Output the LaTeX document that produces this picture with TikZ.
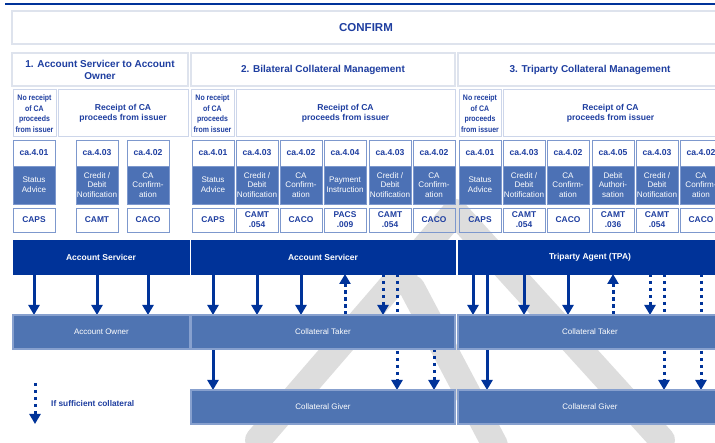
\documentclass[tikz,border=0pt]{standalone}
\usepackage{fontspec}
\setmainfont{Liberation Sans}
\usetikzlibrary{arrows.meta}
\pgfdeclarelayer{wm}
\pgfdeclarelayer{bg}
\pgfsetlayers{wm,bg,main}
\definecolor{dblue}{RGB}{0,51,153}
\definecolor{tblue}{RGB}{30,62,160}
\definecolor{mblue}{RGB}{76,113,181}
\definecolor{lbox}{RGB}{79,116,178}
\definecolor{lboxedge}{RGB}{135,160,206}
\definecolor{cborder}{RGB}{125,152,205}
\definecolor{hborder}{RGB}{205,214,234}
\definecolor{tborder}{RGB}{222,227,237}
\definecolor{wmgray}{RGB}{221,221,221}
\newcommand\bx[7]{\node[box,#6,minimum width={#4-#2},minimum height={#5-#3}] (#1) at (#2,#3) {#7};}
\newcommand\mcol[5]{%
  \bx{#1c}{#2}{140}{#2+42}{166}{codecell}{#3}
  \bx{#1m}{#2}{166}{#2+42}{204}{msgcell}{#4}
  \bx{#1b}{#2}{208}{#2+42}{232}{botcell}{#5}}
\begin{document}
\begin{tikzpicture}[x=1pt,y=-1pt,
  box/.style={rectangle,inner sep=0pt,outer sep=0pt,anchor=north west,align=center},
  conf/.style={draw=tborder,line width=1.5pt,text=tblue,font=\fontsize{11.5}{13}\selectfont\bfseries},
  sec/.style={draw=tborder,line width=1.5pt,text=tblue,font=\fontsize{10}{12}\selectfont\bfseries},
  subh/.style={draw=hborder,line width=1pt,text=tblue,font=\fontsize{8}{10.5}\selectfont\bfseries\addfontfeature{FakeStretch=0.87}},
  subr/.style={draw=hborder,line width=1pt,text=tblue,font=\fontsize{8.6}{10.5}\selectfont\bfseries},
  codecell/.style={draw=cborder,line width=0.8pt,text=tblue,font=\fontsize{8.6}{10}\selectfont\bfseries},
  msgcell/.style={draw=cborder,fill=mblue,line width=0.8pt,text=white,font=\fontsize{8.1}{9.6}\selectfont},
  botcell/.style={draw=cborder,line width=0.8pt,text=tblue,font=\fontsize{8.4}{10}\selectfont\bfseries},
  bar/.style={fill=dblue,draw=dblue,text=white,font=\fontsize{8.5}{10}\selectfont\bfseries},
  low/.style={fill=lbox,draw=lboxedge,line width=1.2pt,text=white,font=\fontsize{8}{10}\selectfont},
  legend/.style={text=tblue,font=\fontsize{8.3}{10}\selectfont\bfseries,inner sep=0pt,anchor=west},
  sol/.style={draw=dblue,line width=3pt,-{Triangle[length=10pt,width=11pt]}},
  dot/.style={sol,dash pattern=on 3.5pt off 3.5pt}]
\useasboundingbox (0,0) rectangle (715,443);
\clip (0,0) rectangle (715,443);
% background and watermark
\begin{pgfonlayer}{wm}
\fill[white] (0,0) rectangle (715,443);
\draw[wmgray,line width=26pt,line cap=round] (455,212) -- (662,440);
\draw[wmgray,line width=26pt,line cap=round] (455,212) -- (258,440);
\draw[wmgray,line width=26pt,line cap=round] (412,288) -- (495,445);
\end{pgfonlayer}
% top rule
\draw[dblue,line width=2pt] (5,4.5) -- (715,4.5);
% headers
\bx{cf}{12}{11}{720}{44}{conf}{CONFIRM}
\bx{s1}{12}{53}{188}{86}{sec}{1. Account Servicer to Account\\Owner}
\bx{s2}{191}{53}{455}{86}{sec}{2. Bilateral Collateral Management}
\bx{s3}{458}{53}{722}{86}{sec}{3. Triparty Collateral Management}
\bx{nr1}{13}{90}{56}{137}{subh}{No receipt\\of CA\\proceeds\\from issuer}
\bx{rc1}{58}{90}{188}{137}{subr}{Receipt of CA\\proceeds from issuer}
\bx{nr2}{191}{90}{234}{137}{subh}{No receipt\\of CA\\proceeds\\from issuer}
\bx{rc2}{236}{90}{455}{137}{subr}{Receipt of CA\\proceeds from issuer}
\bx{nr3}{459}{90}{501}{137}{subh}{No receipt\\of CA\\proceeds\\from issuer}
\bx{rc3}{503}{90}{718}{137}{subr}{Receipt of CA\\proceeds from issuer}
% message columns
\mcol{c11}{13}{ca.4.01}{Status\\Advice}{CAPS}
\mcol{c12}{76}{ca.4.03}{Credit /\\Debit\\Notification}{CAMT}
\mcol{c13}{127}{ca.4.02}{CA\\Confirm-\\ation}{CACO}
\mcol{c21}{192}{ca.4.01}{Status\\Advice}{CAPS}
\mcol{c22}{236}{ca.4.03}{Credit /\\Debit\\Notification}{CAMT\\.054}
\mcol{c23}{280}{ca.4.02}{CA\\Confirm-\\ation}{CACO}
\mcol{c24}{324}{ca.4.04}{Payment\\Instruction}{PACS\\.009}
\mcol{c25}{369}{ca.4.03}{Credit /\\Debit\\Notification}{CAMT\\.054}
\mcol{c26}{413}{ca.4.02}{CA\\Confirm-\\ation}{CACO}
\mcol{c31}{459}{ca.4.01}{Status\\Advice}{CAPS}
\mcol{c32}{503}{ca.4.03}{Credit /\\Debit\\Notification}{CAMT\\.054}
\mcol{c33}{547}{ca.4.02}{CA\\Confirm-\\ation}{CACO}
\mcol{c34}{592}{ca.4.05}{Debit\\Authori-\\sation}{CAMT\\.036}
\mcol{c35}{636}{ca.4.03}{Credit /\\Debit\\Notification}{CAMT\\.054}
\mcol{c36}{680}{ca.4.02}{CA\\Confirm-\\ation}{CACO}
% parties
\bx{as1}{13}{240}{189}{274}{bar}{Account Servicer}
\bx{as2}{191}{240}{455}{274}{bar}{Account Servicer}
\bx{tpa}{458}{240}{722}{274}{bar}{Triparty Agent (TPA)}
\bx{ao}{13}{315}{190}{349}{low}{Account Owner}
\bx{ct2}{191}{315}{455}{349}{low}{Collateral Taker}
\bx{ct3}{458}{315}{722}{349}{low}{Collateral Taker}
\bx{cg2}{191}{390}{455}{424}{low}{Collateral Giver}
\bx{cg3}{458}{390}{722}{424}{low}{Collateral Giver}
% offset points
\coordinate (x25a) at ([xshift=-7]c25m.center);
\coordinate (x25b) at ([xshift=7]c25m.center);
\coordinate (x31a) at ([xshift=-7]c31m.center);
\coordinate (x31b) at ([xshift=7]c31m.center);
\coordinate (x35a) at ([xshift=-7]c35m.center);
\coordinate (x35b) at ([xshift=7]c35m.center);
% connectors
\begin{pgfonlayer}{bg}
\draw[sol] (c11m |- as1.south) -- (c11m |- ao.north);
\draw[sol] (c12m |- as1.south) -- (c12m |- ao.north);
\draw[sol] (c13m |- as1.south) -- (c13m |- ao.north);
\draw[sol] (c21m |- as2.south) -- (c21m |- ct2.north);
\draw[sol] (c22m |- as2.south) -- (c22m |- ct2.north);
\draw[sol] (c23m |- as2.south) -- (c23m |- ct2.north);
\draw[dot] (c24m |- ct2.north) -- (c24m |- as2.south);
\draw[dot] (x25a |- as2.south) -- (x25a |- ct2.north);
\draw[dot] (x25b |- as2.south) -- (x25b |- cg2.north);
\draw[sol] (c21m |- ct2.south) -- (c21m |- cg2.north);
\draw[dot] (c26m |- ct2.south) -- (c26m |- cg2.north);
\draw[sol] (x31a |- tpa.south) -- (x31a |- ct3.north);
\draw[sol] (x31b |- tpa.south) -- (x31b |- cg3.north);
\draw[sol] (c32m |- tpa.south) -- (c32m |- ct3.north);
\draw[sol] (c33m |- tpa.south) -- (c33m |- ct3.north);
\draw[dot] (c34m |- ct3.north) -- (c34m |- tpa.south);
\draw[dot] (x35a |- tpa.south) -- (x35a |- ct3.north);
\draw[dot] (x35b |- tpa.south) -- (x35b |- cg3.north);
\draw[dot] (c36m |- tpa.south) -- (c36m |- cg3.north);
\end{pgfonlayer}
% legend
\coordinate (lg1) at (35,383);
\coordinate (lg2) at (35,424);
\draw[dot] (lg1) -- (lg2);
\node[legend] (lgt) at (51,404) {If sufficient collateral};
\end{tikzpicture}
\end{document}
